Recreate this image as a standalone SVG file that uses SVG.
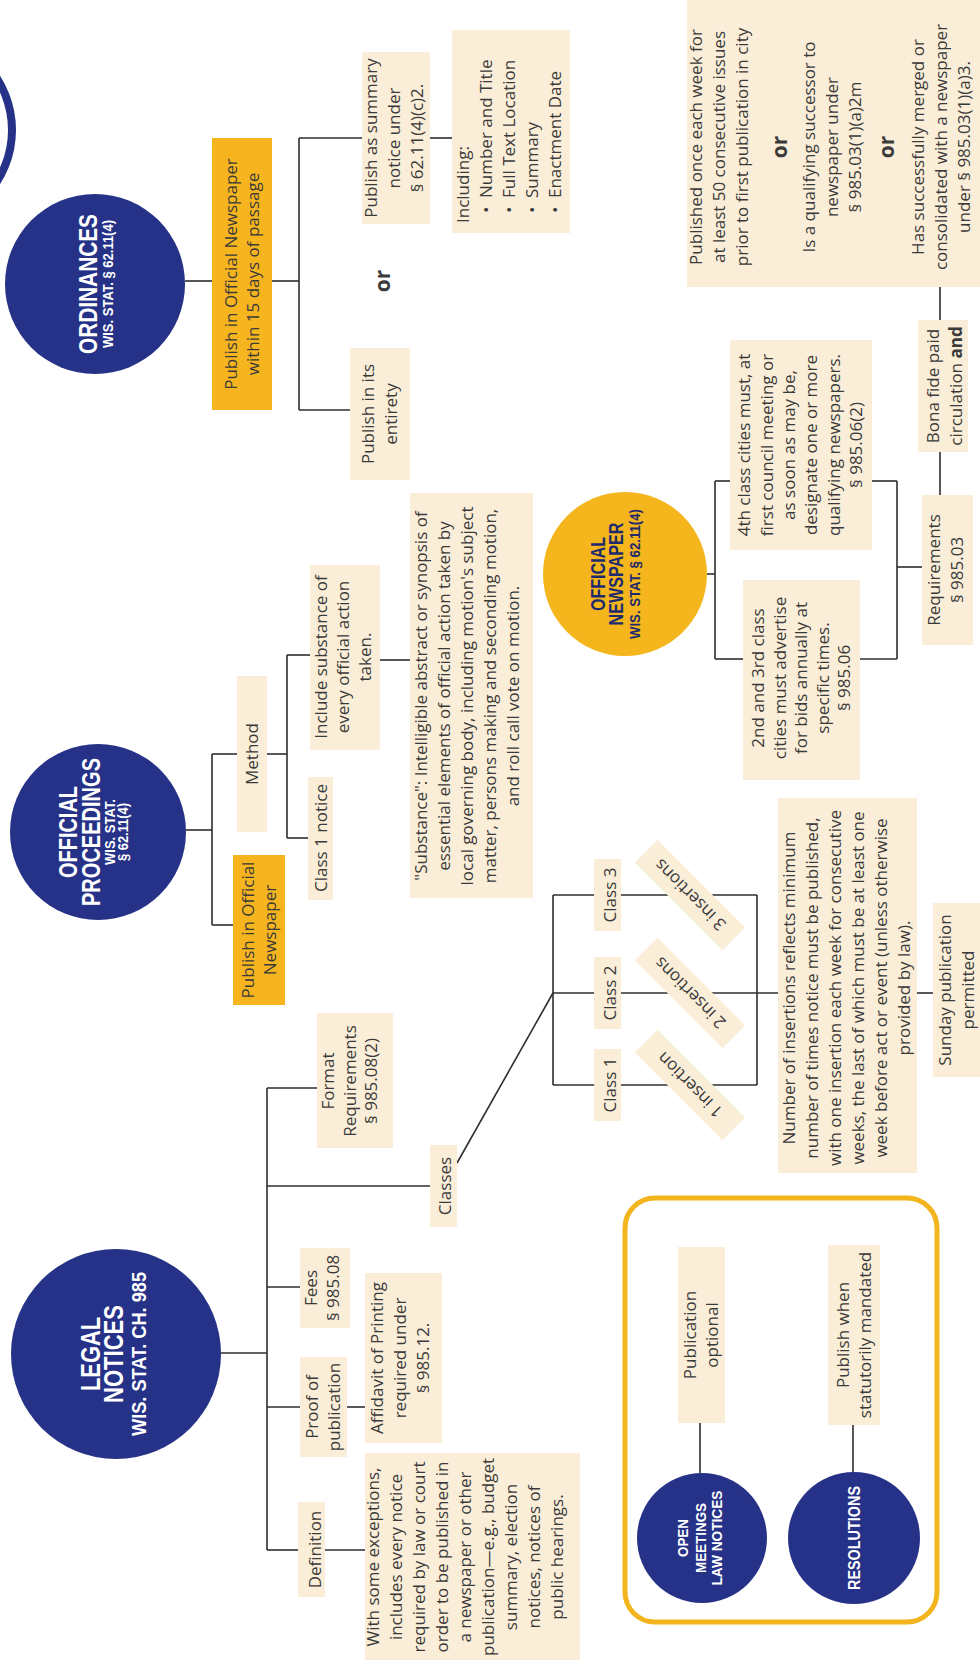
<svg xmlns="http://www.w3.org/2000/svg" width="980" height="1663" viewBox="0 0 980 1663">
<defs>
<style>
.box{fill:#FBEED8}
.obox{fill:#F6B51E}
.navy{fill:#263287}
.t{font-family:"Open Sans","Liberation Sans",sans-serif;font-size:17px;fill:#3a3a3a;text-anchor:middle}
.st{text-anchor:start}
.b{font-weight:bold}
.or{font-weight:bold;font-size:21px}
.h{font-family:"Liberation Sans",Arial,sans-serif;font-weight:bold;fill:#fff;text-anchor:middle}
.hd{fill:#1d2a6b}
.c line{stroke:#2e2e2e;stroke-width:1.6;fill:none}
</style>
</defs>
<rect width="980" height="1663" fill="#fff"/>
<g transform="translate(0,1663) rotate(-90)">
<g id="connectors" class="c">
<line x1="1382" y1="185" x2="1382" y2="212"/>
<line x1="1382" y1="272" x2="1382" y2="299"/>
<line x1="1253" y1="299" x2="1525" y2="299"/>
<line x1="1525" y1="299" x2="1525" y2="362"/>
<line x1="1253" y1="299" x2="1253" y2="350"/>
<line x1="1525" y1="430" x2="1525" y2="452"/>
<line x1="1089" y1="707" x2="1089" y2="715"/>
<line x1="1004" y1="715" x2="1182" y2="715"/>
<line x1="1182" y1="715" x2="1182" y2="730"/>
<line x1="1004" y1="715" x2="1004" y2="743"/>
<line x1="1182" y1="870" x2="1182" y2="897"/>
<line x1="1004" y1="857" x2="1004" y2="897"/>
<line x1="1004" y1="897" x2="1182" y2="897"/>
<line x1="1096" y1="897" x2="1096" y2="922"/>
<line x1="1168" y1="940" x2="1211" y2="940"/>
<line x1="1343" y1="940" x2="1376" y2="940"/>
<line x1="833" y1="186" x2="833" y2="212"/>
<line x1="738" y1="212" x2="909" y2="212"/>
<line x1="909" y1="212" x2="909" y2="237"/>
<line x1="738" y1="212" x2="738" y2="233"/>
<line x1="909" y1="267" x2="909" y2="287"/>
<line x1="825" y1="287" x2="1008" y2="287"/>
<line x1="1008" y1="287" x2="1008" y2="310"/>
<line x1="825" y1="287" x2="825" y2="308"/>
<line x1="1003" y1="380" x2="1003" y2="410"/>
<line x1="310" y1="221" x2="310" y2="267"/>
<line x1="113" y1="267" x2="575" y2="267"/>
<line x1="113" y1="267" x2="113" y2="298"/>
<line x1="256" y1="267" x2="256" y2="300"/>
<line x1="376" y1="267" x2="376" y2="300"/>
<line x1="477" y1="267" x2="477" y2="430"/>
<line x1="575" y1="267" x2="575" y2="317"/>
<line x1="113" y1="325" x2="113" y2="365"/>
<line x1="256" y1="347" x2="256" y2="365"/>
<line x1="500" y1="457" x2="670" y2="553"/>
<line x1="578" y1="553" x2="768" y2="553"/>
<line x1="768" y1="553" x2="768" y2="757"/>
<line x1="670" y1="553" x2="670" y2="778"/>
<line x1="578" y1="553" x2="578" y2="757"/>
<line x1="578" y1="757" x2="768" y2="757"/>
<line x1="670" y1="917" x2="670" y2="933"/>
<line x1="190" y1="700" x2="240" y2="700"/>
<line x1="190" y1="853" x2="240" y2="853"/>
</g>

<g id="ring"><circle cx="1533" cy="-84" r="96" fill="none" stroke="#263287" stroke-width="8"/></g>

<g id="ordinances">
<circle class="navy" cx="1379" cy="95" r="90"/>
<text class="h" x="1379" y="97" font-size="26" textLength="140" lengthAdjust="spacingAndGlyphs">ORDINANCES</text>
<text class="h" x="1379" y="113" font-size="14" textLength="128" lengthAdjust="spacingAndGlyphs">WIS. STAT. § 62.11(4)</text>
</g>
<g id="ord-publish">
<rect class="obox" x="1253" y="212" width="272" height="60"/>
<text class="t" x="1389" y="237">Publish in Official Newspaper</text>
<text class="t" x="1389" y="259">within 15 days of passage</text>
</g>
<g id="ord-summary">
<rect class="box" x="1439" y="362" width="172" height="68"/>
<text class="t" x="1525" y="377">Publish as summary</text>
<text class="t" x="1525" y="400">notice under</text>
<text class="t" x="1525" y="423">§ 62.11(4)(c)2.</text>
</g>
<g id="ord-or"><text class="t or" x="1382" y="390">or</text></g>
<g id="ord-entirety">
<rect class="box" x="1183" y="350" width="132" height="60"/>
<text class="t" x="1249" y="374">Publish in its</text>
<text class="t" x="1249" y="397">entirety</text>
</g>
<g id="ord-including">
<rect class="box" x="1430" y="452" width="203" height="118"/>
<text class="t st" x="1440" y="469">Including:</text>
<text class="t st" x="1450" y="492">•</text><text class="t st" x="1465" y="492">Number and Title</text>
<text class="t st" x="1450" y="515">•</text><text class="t st" x="1465" y="515">Full Text Location</text>
<text class="t st" x="1450" y="538">•</text><text class="t st" x="1465" y="538">Summary</text>
<text class="t st" x="1450" y="561">•</text><text class="t st" x="1465" y="561">Enactment Date</text>
</g>

<g id="official-proceedings">
<circle class="navy" cx="831" cy="98" r="88"/>
<text class="h" x="831" y="77" font-size="25" textLength="92" lengthAdjust="spacingAndGlyphs">OFFICIAL</text>
<text class="h" x="831" y="100" font-size="25" textLength="148" lengthAdjust="spacingAndGlyphs">PROCEEDINGS</text>
<text class="h" x="831" y="115" font-size="14" textLength="66" lengthAdjust="spacingAndGlyphs">WIS. STAT.</text>
<text class="h" x="831" y="128" font-size="14" textLength="58" lengthAdjust="spacingAndGlyphs">§ 62.11(4)</text>
</g>
<g id="op-method">
<rect class="box" x="831" y="237" width="156" height="30"/>
<text class="t" x="909" y="258">Method</text>
</g>
<g id="op-include">
<rect class="box" x="913" y="310" width="185" height="70"/>
<text class="t" x="1006" y="327">Include substance of</text>
<text class="t" x="1006" y="349">every official action</text>
<text class="t" x="1006" y="371">taken.</text>
</g>
<g id="op-class1">
<rect class="box" x="763" y="308" width="123" height="25"/>
<text class="t" x="825" y="327">Class 1 notice</text>
</g>
<g id="op-substance">
<rect class="box" x="765" y="410" width="405" height="123"/>
<text class="t" x="967" y="427">"Substance": Intelligible abstract or synopsis of</text>
<text class="t" x="967" y="450">essential elements of official action taken by</text>
<text class="t" x="967" y="473">local governing body, including motion's subject</text>
<text class="t" x="967" y="496">matter, persons making and seconding motion,</text>
<text class="t" x="967" y="519">and roll call vote on motion.</text>
</g>
<g id="op-publish">
<rect class="obox" x="658" y="233" width="150" height="52"/>
<text class="t" x="733" y="254">Publish in Official</text>
<text class="t" x="733" y="276">Newspaper</text>
</g>

<g id="official-newspaper">
<circle cx="1089" cy="625" r="82" fill="#F5B51D"/>
<text class="h hd" x="1089" y="605" font-size="20" textLength="74" lengthAdjust="spacingAndGlyphs">OFFICIAL</text>
<text class="h hd" x="1089" y="623" font-size="20" textLength="103" lengthAdjust="spacingAndGlyphs">NEWSPAPER</text>
<text class="h hd" x="1089" y="640" font-size="14" textLength="130" lengthAdjust="spacingAndGlyphs">WIS. STAT. § 62.11(4)</text>
</g>
<g id="on-4th">
<rect class="box" x="1113" y="730" width="210" height="142"/>
<text class="t" x="1218" y="750">4th class cities must, at</text>
<text class="t" x="1218" y="772.5">first council meeting or</text>
<text class="t" x="1218" y="795">as soon as may be,</text>
<text class="t" x="1218" y="817">designate one or more</text>
<text class="t" x="1218" y="840">qualifying newspapers.</text>
<text class="t" x="1218" y="862">§ 985.06(2)</text>
</g>
<g id="on-2nd">
<rect class="box" x="883" y="743" width="200" height="117"/>
<text class="t" x="985" y="764">2nd and 3rd class</text>
<text class="t" x="985" y="786">cities must advertise</text>
<text class="t" x="985" y="807">for bids annually at</text>
<text class="t" x="985" y="829">specific times.</text>
<text class="t" x="985" y="850">§ 985.06</text>
</g>
<g id="on-requirements">
<rect class="box" x="1018" y="922" width="150" height="51"/>
<text class="t" x="1093" y="940">Requirements</text>
<text class="t" x="1093" y="963">§ 985.03</text>
</g>
<g id="on-bonafide">
<rect class="box" x="1211" y="918" width="132" height="50"/>
<text class="t" x="1277" y="939">Bona fide paid</text>
<text class="t" x="1277" y="962">circulation <tspan class="b">and</tspan></text>
</g>
<g id="on-published">
<rect class="box" x="1376" y="687" width="290" height="298"/>
<text class="t" x="1516" y="702">Published once each week for</text>
<text class="t" x="1516" y="725">at least 50 consecutive issues</text>
<text class="t" x="1516" y="748">prior to first publication in city</text>
<text class="t or" x="1516" y="787">or</text>
<text class="t" x="1516" y="815">Is a qualifying successor to</text>
<text class="t" x="1516" y="838">newspaper under</text>
<text class="t" x="1516" y="861">§ 985.03(1)(a)2m</text>
<text class="t or" x="1516" y="894">or</text>
<text class="t" x="1516" y="924">Has successfully merged or</text>
<text class="t" x="1516" y="947">consolidated with a newspaper</text>
<text class="t" x="1516" y="970">under § 985.03(1)(a)3.</text>
</g>

<g id="legal-notices">
<circle class="navy" cx="309" cy="116" r="105"/>
<text class="h" x="309" y="100" font-size="27" textLength="74" lengthAdjust="spacingAndGlyphs">LEGAL</text>
<text class="h" x="309" y="123" font-size="27" textLength="98" lengthAdjust="spacingAndGlyphs">NOTICES</text>
<text class="h" x="309" y="146" font-size="20" textLength="164" lengthAdjust="spacingAndGlyphs">WIS. STAT. CH. 985</text>
</g>
<g id="ln-definition">
<rect class="box" x="66" y="298" width="95" height="27"/>
<text class="t" x="113.5" y="321">Definition</text>
</g>
<g id="ln-deftext">
<rect class="box" x="3" y="365" width="207" height="215"/>
<text class="t" x="106" y="379">With some exceptions,</text>
<text class="t" x="106" y="402">includes every notice</text>
<text class="t" x="106" y="425">required by law or court</text>
<text class="t" x="106" y="448">order to be published in</text>
<text class="t" x="106" y="471">a newspaper or other</text>
<text class="t" x="106" y="494">publication—e.g., budget</text>
<text class="t" x="106" y="517">summary, election</text>
<text class="t" x="106" y="540">notices, notices of</text>
<text class="t" x="106" y="563">public hearings.</text>
</g>
<g id="ln-proof">
<rect class="box" x="206" y="300" width="100" height="47"/>
<text class="t" x="256" y="318">Proof of</text>
<text class="t" x="256" y="340">publication</text>
</g>
<g id="ln-affidavit">
<rect class="box" x="220" y="365" width="170" height="77"/>
<text class="t" x="305" y="383">Affidavit of Printing</text>
<text class="t" x="305" y="406">required under</text>
<text class="t" x="305" y="429">§ 985.12.</text>
</g>
<g id="ln-fees">
<rect class="box" x="335" y="300" width="80" height="50"/>
<text class="t" x="375" y="317">Fees</text>
<text class="t" x="375" y="339">§ 985.08</text>
</g>
<g id="ln-format">
<rect class="box" x="515" y="317" width="135" height="76"/>
<text class="t" x="582" y="334">Format</text>
<text class="t" x="582" y="356">Requirements</text>
<text class="t" x="582" y="377">§ 985.08(2)</text>
</g>
<g id="ln-classes">
<rect class="box" x="436" y="430" width="82" height="27"/>
<text class="t" x="477" y="451">Classes</text>
</g>
<g id="class3"><rect class="box" x="732" y="594" width="72" height="27"/><text class="t" x="768" y="616">Class 3</text></g>
<g id="class2"><rect class="box" x="634" y="594" width="72" height="27"/><text class="t" x="670" y="616">Class 2</text></g>
<g id="class1"><rect class="box" x="542" y="594" width="72" height="27"/><text class="t" x="578" y="616">Class 1</text></g>
<g id="ins3" transform="translate(768,690) rotate(-45)"><rect class="box" x="-62" y="-16" width="124" height="32"/><text class="t" x="0" y="6">3 insertions</text></g>
<g id="ins2" transform="translate(670,690) rotate(-45)"><rect class="box" x="-62" y="-16" width="124" height="32"/><text class="t" x="0" y="6">2 insertions</text></g>
<g id="ins1" transform="translate(578,690) rotate(-45)"><rect class="box" x="-62" y="-16" width="124" height="32"/><text class="t" x="0" y="6">1 insertion</text></g>
<g id="ln-number">
<rect class="box" x="490" y="778" width="375" height="139"/>
<text class="t" x="675" y="795">Number of insertions reflects minimum</text>
<text class="t" x="675" y="818">number of times notice must be published,</text>
<text class="t" x="675" y="841">with one insertion each week for consecutive</text>
<text class="t" x="675" y="864">weeks, the last of which must be at least one</text>
<text class="t" x="675" y="887">week before act or event (unless otherwise</text>
<text class="t" x="675" y="910">provided by law).</text>
</g>
<g id="ln-sunday">
<rect class="box" x="586" y="933" width="174" height="50"/>
<text class="t" x="673" y="951">Sunday publication</text>
<text class="t" x="673" y="974">permitted</text>
</g>

<g id="legend">
<rect x="41" y="625" width="424" height="312" rx="30" fill="none" stroke="#F3B51E" stroke-width="5"/>
</g>
<g id="open-meetings">
<circle class="navy" cx="125" cy="702" r="65"/>
<text class="h" x="125" y="688" font-size="15" textLength="38" lengthAdjust="spacingAndGlyphs">OPEN</text>
<text class="h" x="125" y="705.5" font-size="15" textLength="70" lengthAdjust="spacingAndGlyphs">MEETINGS</text>
<text class="h" x="125" y="722" font-size="15" textLength="95" lengthAdjust="spacingAndGlyphs">LAW NOTICES</text>
</g>
<g id="om-optional">
<rect class="box" x="240" y="678" width="176" height="47"/>
<text class="t" x="328" y="696">Publication</text>
<text class="t" x="328" y="718">optional</text>
</g>
<g id="resolutions">
<circle class="navy" cx="125" cy="854" r="66"/>
<text class="h" x="125" y="860" font-size="17" textLength="104" lengthAdjust="spacingAndGlyphs">RESOLUTIONS</text>
</g>
<g id="res-mandated">
<rect class="box" x="238" y="828" width="180" height="52"/>
<text class="t" x="328" y="849">Publish when</text>
<text class="t" x="328" y="871">statutorily mandated</text>
</g>
</g>
</svg>
